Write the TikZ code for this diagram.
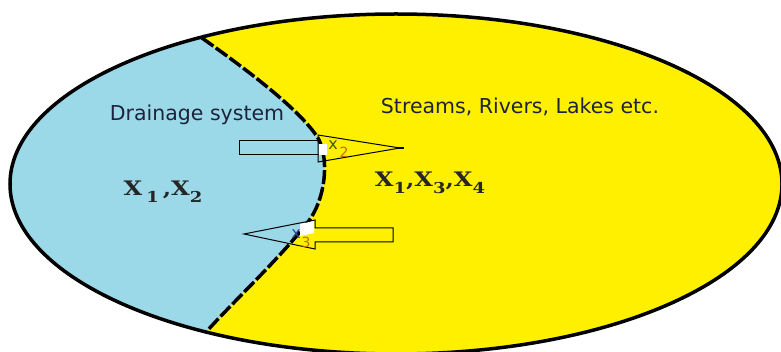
\documentclass[tikz,border=0pt]{standalone}
\usepackage{fontspec}
\newfontfamily\labelfont{DejaVu Sans}
\newfontfamily\xfont{DejaVu Serif}
\definecolor{yellowF}{RGB}{255,240,0}
\definecolor{blueF}{RGB}{155,216,232}
\definecolor{textDark}{RGB}{30,35,60}
\definecolor{xgreen}{RGB}{60,90,25}
\definecolor{xorange}{RGB}{190,110,20}
\definecolor{xblue}{RGB}{50,70,140}
\newcommand{\subdig}[1]{\raisebox{-0.32em}{\fontsize{15}{16}\selectfont #1}}
\tikzset{
  outline/.style={draw=black, line width=3.5pt},
  divide/.style={draw=black, line width=3.5pt, dash pattern=on 14pt off 3pt},
  blockarrow/.style={draw=black, line width=1pt, line join=miter},
  sanslabel/.style={font=\labelfont\fontsize{20.5}{24}\selectfont, text=textDark, inner sep=0pt},
  biglabel/.style={font=\xfont\bfseries\fontsize{20}{22}\selectfont, text=black!85, inner sep=0pt},
  smalllabel/.style={font=\labelfont\fontsize{16}{17}\selectfont, inner sep=0pt}
}
\begin{document}
\begin{tikzpicture}[x=1pt,y=-1pt]
\useasboundingbox (0,0) rectangle (781,352);
\fill[white] (0,0) rectangle (781,352);
\coordinate (c) at (396,184);
% yellow region
\fill[yellowF] (c) ellipse [x radius=386, y radius=170];
% blue region
\begin{scope}
  \clip (c) ellipse [x radius=386, y radius=170];
  \fill[blueF] (202,0) -- (202,38) .. controls (250,72) and (300,110) .. (318,138)
     .. controls (330,160) and (325,200) .. (308,222)
     .. controls (280,258) and (235,300) .. (207,331) -- (207,352) -- (0,352) -- (0,0) -- cycle;
\end{scope}
% dividing boundary
\draw[divide] (202,38) .. controls (250,72) and (300,110) .. (318,138)
     .. controls (330,160) and (325,200) .. (308,222)
     .. controls (280,258) and (235,300) .. (207,331);
% ellipse outline
\draw[outline] (c) ellipse [x radius=386, y radius=170];
% arrow 1 (x2)
\draw[blockarrow] (239,141) rectangle (320,155);
\fill[white] (319,144) rectangle (327,155);
\draw[blockarrow] (318,135) -- (400,148) -- (318,162) -- cycle;
\draw[line width=1.5pt] (396,148) -- (404,148);
\node[smalllabel, text=xgreen] (x2) at (333,145) {x};
\node[smalllabel, text=xorange] (x2s) at (344,152) {\fontsize{14}{15}\selectfont 2};
% arrow 2 (x3)
\fill[white] (300,224) -- (314,221) -- (314,233) -- (300,236) -- cycle;
\draw[blockarrow] (244,234) -- (315,220) -- (315,228) -- (393,228) -- (393,242)
   -- (315,242) -- (315,249) -- cycle;
\node[smalllabel, text=xblue] (x3) at (296,234) {x};
\node[smalllabel, text=xorange] (x3s) at (306,242) {\fontsize{14}{15}\selectfont 3};
% labels
\node[sanslabel] (drain) at (197,115) {Drainage system};
\node[sanslabel] (streams) at (520,107) {Streams, Rivers, Lakes etc.};
\node[biglabel, anchor=base] (left) at (163,196) {\scalebox{1.2}[1]{X\,\subdig{1}\,,X\subdig{2}}};
\node[biglabel, anchor=base] (right) at (430,187) {\scalebox{1.2}[1]{X\subdig{1},X\subdig{3},X\subdig{4}}};
\end{tikzpicture}
\end{document}
